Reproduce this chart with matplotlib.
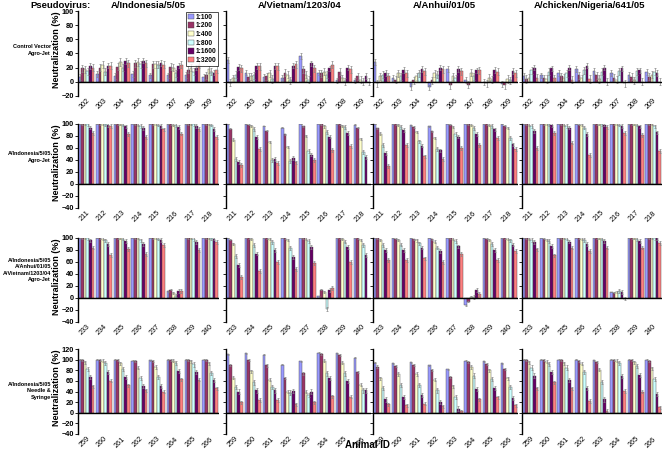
import numpy as np
import matplotlib
matplotlib.use("Agg")
import matplotlib.pyplot as plt

plt.rcParams['font.family'] = ['Liberation Sans', 'DejaVu Sans']

dilutions = ["1:100", "1:200", "1:400", "1:800", "1:1600", "1:3200"]
colors = ["#9999FF", "#993366", "#FFFFCC", "#CCFFFF", "#660066", "#FF8080"]
pseudoviruses = ["A/Indonesia/5/05", "A/Vietnam/1203/04", "A/Anhui/01/05", "A/chicken/Nigeria/641/05"]
row_labels = ["Control Vector\nAgro-Jet",
              "A/Indonesia/5/05\nAgro-Jet",
              "A/Indonesia/5/05\nA/Anhui/01/05\nA/Vietnam/1203/04\nAgro-Jet",
              "A/Indonesia/5/05\nNeedle &\nSyringe"]
ids_r1 = ["202", "203", "204", "205", "206", "207", "208", "209"]
ids_r2 = ["211", "212", "213", "214", "215", "216", "217", "218"]
ids_r3 = ["233", "234", "235", "236", "237", "238", "239", "240"]
ids_r4 = ["259", "260", "261", "262", "263", "264", "265", "266"]

nan = np.nan
# Row 1: Control Vector, Agro-Jet
r1_indo = [[7, 19, 18, 15, 22, 20], [11, 20, 24, 14, 23, 23], [8, 21, 28, 20, 29, 26], [11, 26, 28, 25, 30, 26],
           [9, 25, 25, 24, 27, 24], [9, 21, 20, 12, 23, 24], [10, 17, 20, 14, 20, 24], [7, 9, 18, 14, 13, 17]]
r1_viet = [[31, -1, 5, 10, 21, 19], [13, 7, 8, 9, 22, 22], [7, 8, 12, 4, 22, 22], [5, 13, 10, 2, 23, 25],
           [36, 18, 10, 3, 26, 19], [13, 12, 14, 10, 19, 24], [2, 14, 5, 1, 20, 18], [2, 8, 3, 0, 8, 0]]
r1_anhui = [[28, -2, 8, 10, 12, 8], [5, 3, 12, 8, 17, 12], [-7, 2, 8, 12, 18, 15], [-8, 2, 12, 10, 20, 18],
            [18, -5, 8, 5, 18, 15], [3, -4, 13, 8, 16, 16], [0, -2, 6, 3, 17, 14], [-3, -5, 4, 2, 15, 12]]
r1_nig = [[8, 4, 6, 16, 20, 6], [9, 5, 4, 14, 19, 5], [12, 8, 6, 12, 20, 3], [18, 9, 5, 16, 23, 4],
          [15, 9, 4, 14, 20, 0], [12, 6, 3, 15, 19, -2], [10, 7, 2, 15, 16, 0], [14, 7, 10, 14, 12, 0]]
# Row 2: A/Indonesia/5/05 Agro-Jet
r2_indo = [[100, 100, 100, 100, 94, 85], [100, 100, 100, 100, 98, 97], [100, 100, 100, 99, 96, 83],
           [100, 100, 99, 97, 93, 78], [100, 100, 100, 99, 97, 91], [100, 100, 99, 98, 95, 84],
           [100, 100, 100, 100, 97, 92], [100, 100, 100, 99, 92, 78]]
r2_viet = [[100, 92, 74, 42, 37, 32], [100, 99, 97, 92, 78, 58], [97, 89, 70, 40, 42, 35],
           [94, 83, 62, 38, 43, 36], [100, 96, 80, 55, 49, 40], [100, 100, 96, 87, 79, 57],
           [100, 100, 97, 95, 85, 63], [99, 94, 75, 53, 45, nan]]
r2_anhui = [[100, 93, 84, 65, 52, 30], [100, 100, 98, 95, 90, 65], [98, 95, 87, 71, 64, 46],
            [96, 88, 77, 58, 56, 42], [100, 99, 95, 83, 79, 60], [100, 100, 99, 93, 83, 65],
            [100, 100, 99, 97, 91, 77], [100, 97, 93, 77, 66, 58]]
r2_nig = [[100, 100, 99, 97, 88, 60], [100, 100, 100, 100, 98, 85], [100, 100, 99, 97, 94, 69],
          [100, 99, 98, 94, 83, 48], [100, 100, 100, 100, 99, 95], [100, 100, 100, 99, 97, 85],
          [100, 100, 100, 99, 96, 82], [100, 100, 100, 96, 86, 55]]
# Row 3: trivalent Agro-Jet
r3_indo = [[100, 100, 100, 100, 96, 84], [100, 100, 99, 96, 90, 72], [100, 100, 100, 99, 95, 82],
           [100, 100, 100, 96, 90, 73], [100, 100, 100, 99, 97, 88], [11, 14, 8, 4, 12, 12],
           [100, 100, 100, 98, 93, 80], [100, 100, 100, 100, 99, 93]]
r3_viet = [[100, 97, 90, 70, 55, 35], [100, 100, 98, 88, 74, 45], [100, 100, 98, 93, 80, 60],
           [100, 100, 97, 83, 68, 48], [100, 100, 99, 95, 85, 58], [3, 14, 10, -18, 13, 17],
           [100, 100, 98, 94, 85, 60], [100, 100, 97, 88, 72, nan]]
r3_anhui = [[100, 100, 97, 88, 80, 63], [100, 99, 97, 89, 80, 63], [100, 98, 96, 91, 84, 66],
            [100, 98, 94, 84, 78, 60], [100, 100, 99, 95, 86, 73], [-12, -6, 2, 2, 13, 7],
            [100, 99, 97, 90, 80, 63], [100, 100, 99, 96, 89, 78]]
r3_nig = [[100, 100, 98, 97, 93, 81], [100, 99, 97, 95, 87, 71], [100, 100, 100, 99, 94, 84],
          [100, 100, 99, 97, 90, 78], [100, 100, 100, 99, 95, 84], [10, 9, 10, 12, 10, -1],
          [100, 100, 100, 98, 95, 84], [100, 100, 100, 100, 100, 92]]
# Row 4: A/Indonesia/5/05 Needle & Syringe
r4_indo = [[100, 100, 95, 83, 68, 50], [100, 100, 98, 93, 77, 60], [100, 100, 93, 83, 67, 52],
           [98, 97, 85, 66, 51, 42], [99, 98, 86, 68, 50, 40], [100, 100, 98, 93, 79, 63],
           [100, 100, 97, 91, 77, 62], [100, 99, 93, 75, 61, 46]]
r4_viet = [[110, 90, 66, 48, 40, 20], [112, 100, 78, 57, 42, 24], [109, 89, 62, 48, 42, 24],
           [90, 65, 40, 38, 41, 16], [97, 74, 40, 34, 40, 20], [113, 111, 98, 74, 65, 31],
           [112, 109, 94, 74, 60, 30], [104, 77, 53, 42, 42, nan]]
r4_anhui = [[94, 87, 65, 46, 25, 16], [93, 88, 73, 52, 29, 14], [95, 90, 73, 52, 33, 17],
            [89, 80, 62, 42, 20, 12], [82, 67, 50, 29, 8, 3], [98, 96, 86, 70, 45, 25],
            [97, 91, 80, 64, 46, 29], [93, 82, 65, 48, 28, 14]]
r4_nig = [[100, 100, 95, 85, 70, 46], [100, 100, 96, 92, 77, 57], [100, 100, 93, 85, 61, 46],
          [100, 98, 92, 77, 47, 22], [99, 96, 81, 58, 25, 4], [100, 100, 98, 94, 69, 41],
          [100, 100, 95, 88, 71, 40], [100, 98, 84, 64, 35, 10]]

# typical error (SD) per dilution for each row
err_r1 = [4, 5, 5, 5, 4, 5]
err_r2 = [0.5, 1, 2, 3, 3, 3]
err_r3 = [0.5, 1, 2, 3, 3, 3]
err_r4 = [1, 2, 3, 4, 4, 3]

rows = [
    (ids_r1, [r1_indo, r1_viet, r1_anhui, r1_nig], err_r1, (-20, 100)),
    (ids_r2, [r2_indo, r2_viet, r2_anhui, r2_nig], err_r2, (-40, 100)),
    (ids_r3, [r3_indo, r3_viet, r3_anhui, r3_nig], err_r3, (-40, 100)),
    (ids_r4, [r4_indo, r4_viet, r4_anhui, r4_nig], err_r4, (-40, 120)),
]

W, H = 662, 450
fig = plt.figure(figsize=(W / 100, H / 100), dpi=100)
col_lr = [(78, 219), (226, 371), (373, 518), (522, 662)]
row_tb = [(11, 96), (124, 208), (238, 322), (349, 434)]
row_label_y = [50, 157, 270, 391]
title_x = [148, 300, 444, 590]

bw = 0.15
for ri, (ids, panels, errs, ylim) in enumerate(rows):
    t, b = row_tb[ri]
    for ci, data in enumerate(panels):
        l, r = col_lr[ci]
        ax = fig.add_axes([l / W, 1 - b / H, (r - l) / W, (b - t) / H])
        arr = np.array(data, dtype=float)
        x = np.arange(len(ids))
        for k in range(6):
            ax.bar(x + (k - 2.5) * bw, arr[:, k], width=bw, color=colors[k],
                   edgecolor="#444444", linewidth=0.3, label=dilutions[k],
                   yerr=errs[k], error_kw=dict(ecolor="#888888", elinewidth=0.5, capsize=1, capthick=0.5),
                   zorder=2)
        ax.axhline(0, color="black", lw=1.0, zorder=3)
        ax.set_xlim(-0.47, 7.5)
        ax.set_ylim(*ylim)
        ax.set_yticks(np.arange(ylim[0], ylim[1] + 1, 20))
        for s in ["top", "right", "bottom"]:
            ax.spines[s].set_visible(False)
        ax.spines["left"].set_linewidth(1.0)
        ax.tick_params(axis="y", length=2, width=0.6, labelsize=5.3, pad=1)
        ax.set_xticks(x)
        ax.set_xticklabels(ids, rotation=45, ha="right", rotation_mode="anchor", fontsize=5.2)
        ax.tick_params(axis="x", length=0, pad=1)
        for lab in ax.get_yticklabels():
            lab.set_fontweight("bold")
        if ci == 0:
            ax.set_ylabel("Neutralization (%)", fontsize=6.5, fontweight="bold")
            ax.yaxis.set_label_coords((61 - l) / (r - l), 0.54)
        else:
            ax.set_yticklabels([])
        if ri == 0 and ci == 0:
            leg = ax.legend(loc="upper right", fontsize=4.8, frameon=True, fancybox=False,
                            handlelength=0.8, handleheight=0.8, handletextpad=0.3,
                            borderpad=0.3, labelspacing=0.25, borderaxespad=0.1,
                            bbox_to_anchor=(1.0, 1.0))
            leg.get_frame().set_edgecolor("black")
            leg.get_frame().set_linewidth(0.6)
            for txt in leg.get_texts():
                txt.set_fontweight("bold")
    fig.text(51 / W, 1 - row_label_y[ri] / H, row_labels[ri], ha="right", va="center",
             fontsize=4.0, fontweight="bold", linespacing=1.35)

for ci, name in enumerate(pseudoviruses):
    fig.text(title_x[ci] / W, 1 - 5 / H, name, ha="center", va="center", fontsize=6.8, fontweight="bold")
fig.text(30 / W, 1 - 5 / H, "Pseudovirus:", ha="left", va="center", fontsize=6.8, fontweight="bold")
fig.text(367 / W, 1 - 445 / H, "Animal ID", ha="center", va="center", fontsize=7, fontweight="bold")

fig.savefig("out.png", dpi=100)
